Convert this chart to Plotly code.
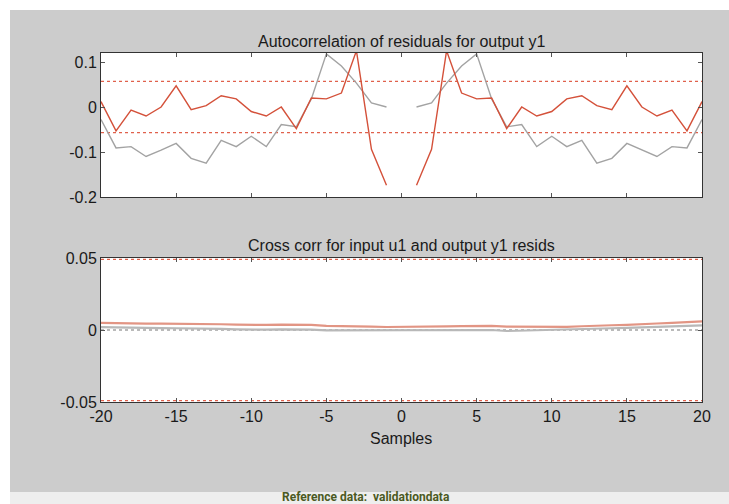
import plotly.graph_objects as go

W, H = 729, 504

lags = list(range(-20, 21))

auto_red = [0.012, -0.053, -0.007, -0.020, 0.000, 0.047, -0.006, 0.003, 0.025, 0.018,
            -0.010, -0.020, 0.000, -0.048, 0.020, 0.018, 0.031, 0.125, -0.094, -0.174,
            None,
            -0.174, -0.094, 0.125, 0.031, 0.018, 0.020, -0.048, 0.000, -0.020, -0.010,
            0.018, 0.025, 0.003, -0.006, 0.047, 0.000, -0.020, -0.007, -0.053, 0.012]

auto_gray = [-0.028, -0.091, -0.088, -0.110, -0.096, -0.081, -0.114, -0.125, -0.074, -0.088,
             -0.065, -0.088, -0.039, -0.044, 0.018, 0.118, 0.091, 0.053, 0.009, 0.000,
             None,
             0.000, 0.009, 0.053, 0.091, 0.118, 0.018, -0.044, -0.039, -0.088, -0.065,
             -0.088, -0.074, -0.125, -0.114, -0.081, -0.096, -0.110, -0.088, -0.091, -0.028]

cross_red = [0.0050, 0.0047, 0.0045, 0.0044, 0.0044, 0.0044, 0.0045, 0.0045, 0.0040, 0.0038,
             0.0035, 0.0035, 0.0038, 0.0039, 0.0035, 0.0028, 0.0028, 0.0029, 0.0024, 0.0021,
             0.0021, 0.0022, 0.0024, 0.0025, 0.0027, 0.0028, 0.0028, 0.0023, 0.0022, 0.0020,
             0.0020, 0.0022, 0.0026, 0.0032, 0.0033, 0.0036, 0.0043, 0.0045, 0.0050, 0.0055, 0.0060]

cross_gray = [0.0020, 0.0017, 0.0016, 0.0015, 0.0013, 0.0012, 0.0012, 0.0012, 0.0008, 0.0005,
              0.0002, 0.0002, 0.0004, 0.0006, 0.0003, -0.0003, -0.0003, 0.0000, -0.0002, -0.0002,
              -0.0002, -0.0001, 0.0000, 0.0001, 0.0002, 0.0002, 0.0000, -0.0007, -0.0005, -0.0003,
              0.0000, 0.0002, 0.0006, 0.0010, 0.0012, 0.0015, 0.0020, 0.0022, 0.0025, 0.0028, 0.0032]

auto_conf = 0.057
cross_conf = 0.049

x_ticks = [-20, -15, -10, -5, 0, 5, 10, 15, 20]
auto_ticks = [0.1, 0, -0.1, -0.2]
cross_ticks = [0.05, 0, -0.05]

title_top = "Autocorrelation of residuals for output y1"
title_bot = "Cross corr for input u1 and output y1 resids"
xlabel = "Samples"
footer = "Reference data:  validationdata"

RED = "#d4513a"
RED_DOT = "#e0614c"
GRAY = "#a3a3a3"
RED_LIGHT = "#e29584"
GRAY_LIGHT = "#b8b8b8"
FONT = "Liberation Sans, Arial"
TXT = "#1a1a1a"


def px(x):
    return x / W


def py(y):
    return 1 - y / H


fig = go.Figure()

# top panel
for c in (auto_conf, -auto_conf):
    fig.add_trace(go.Scatter(x=[-20, 20], y=[c, c], mode="lines",
                             line=dict(color=RED_DOT, width=1.2, dash="dot"), xaxis="x", yaxis="y"))
fig.add_trace(go.Scatter(x=lags, y=auto_gray, mode="lines", connectgaps=False,
                         line=dict(color=GRAY, width=1.4), xaxis="x", yaxis="y"))
fig.add_trace(go.Scatter(x=lags, y=auto_red, mode="lines", connectgaps=False,
                         line=dict(color=RED, width=1.4), xaxis="x", yaxis="y"))

# bottom panel
for c in (cross_conf, -cross_conf):
    fig.add_trace(go.Scatter(x=[-20, 20], y=[c, c], mode="lines",
                             line=dict(color=RED_DOT, width=1.2, dash="dot"), xaxis="x2", yaxis="y2"))
fig.add_trace(go.Scatter(x=[-20, 20], y=[0, 0], mode="lines",
                         line=dict(color="#777777", width=1.2, dash="dot"), xaxis="x2", yaxis="y2"))
fig.add_trace(go.Scatter(x=lags, y=cross_gray, mode="lines",
                         line=dict(color=GRAY_LIGHT, width=2.2), xaxis="x2", yaxis="y2"))
fig.add_trace(go.Scatter(x=lags, y=cross_red, mode="lines",
                         line=dict(color=RED_LIGHT, width=2.2), xaxis="x2", yaxis="y2"))

axis_common = dict(showgrid=False, zeroline=False, showline=True, mirror="allticks",
                   linecolor="#333333", linewidth=1, ticks="inside", ticklen=4,
                   tickcolor="#555555", automargin=False,
                   tickfont=dict(family=FONT, size=16, color=TXT))

fig.update_layout(
    width=W, height=H,
    margin=dict(l=0, r=0, t=0, b=0, pad=0, autoexpand=False),
    paper_bgcolor="#cccccc",
    plot_bgcolor="white",
    showlegend=False,
    xaxis=dict(domain=[px(101), px(702)], range=[-20, 20], tickvals=x_ticks,
               showticklabels=False, anchor="y", **axis_common),
    yaxis=dict(domain=[py(197), py(53)], range=[-0.2, 0.12], tickvals=auto_ticks,
               ticktext=["0.1", "0", "-0.1", "-0.2"], anchor="x", **axis_common),
    xaxis2=dict(domain=[px(101), px(702)], range=[-20, 20], tickvals=x_ticks,
                ticktext=[str(v) for v in x_ticks], anchor="y2", **axis_common),
    yaxis2=dict(domain=[py(402), py(258)], range=[-0.05, 0.05], tickvals=cross_ticks,
                ticktext=["0.05", "0", "-0.05"], anchor="x2", **axis_common),
    shapes=[
        dict(type="rect", xref="paper", yref="paper", x0=0, x1=px(10), y0=0, y1=1,
             fillcolor="white", line=dict(width=0), layer="below"),
        dict(type="rect", xref="paper", yref="paper", x0=0, x1=1, y0=py(10), y1=1,
             fillcolor="white", line=dict(width=0), layer="below"),
        dict(type="rect", xref="paper", yref="paper", x0=px(10), x1=1, y0=0, y1=py(492),
             fillcolor="#eeeeee", line=dict(width=0), layer="below"),
    ],
    annotations=[
        dict(text=title_top, xref="paper", yref="paper", x=px(401), y=py(41),
             xanchor="center", yanchor="middle", showarrow=False,
             font=dict(family=FONT, size=16, color=TXT)),
        dict(text=title_bot, xref="paper", yref="paper", x=px(401), y=py(245),
             xanchor="center", yanchor="middle", showarrow=False,
             font=dict(family=FONT, size=16, color=TXT)),
        dict(text=xlabel, xref="paper", yref="paper", x=px(401), y=py(438),
             xanchor="center", yanchor="middle", showarrow=False,
             font=dict(family=FONT, size=16, color=TXT)),
        dict(text="<b>" + footer + "</b>", xref="paper", yref="paper", x=px(366), y=py(497),
             xanchor="center", yanchor="middle", showarrow=False,
             font=dict(family="Roboto, Liberation Sans, Arial", size=12, color="#4b5a23")),
    ],
)

fig.write_html("out.html", post_script="document.body.style.margin='0';")
